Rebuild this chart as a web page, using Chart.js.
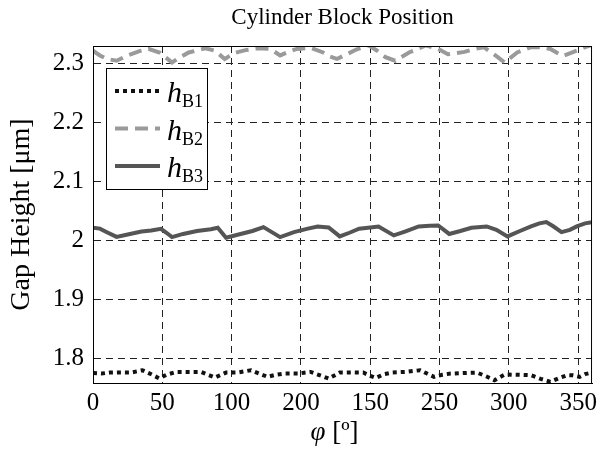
<!DOCTYPE html>
<html>
<head>
<meta charset="utf-8">
<script src="https://cdn.jsdelivr.net/npm/chart.js@4"></script>
<style>
  html, body { margin: 0; padding: 0; background: #fff; }
  #c { display: block; }
</style>
</head>
<body>
<canvas id="c" width="602" height="450"></canvas>
<script>
const phiB1 = [0, 6, 12, 20, 28, 35.6, 41, 47.7, 53, 60, 70, 78, 84, 88, 96, 105, 114, 120, 126, 132, 138, 148, 157, 165, 170, 178, 187, 195, 200, 204, 210, 216, 226, 236, 241, 246, 252, 258, 268, 277, 284, 289.6, 297, 306, 316, 323, 330, 336, 342, 346, 351, 355, 360];
const hB1 = [1.775, 1.774, 1.7757, 1.776, 1.776, 1.7797, 1.774, 1.766, 1.772, 1.7768, 1.7765, 1.7768, 1.771, 1.7672, 1.7757, 1.776, 1.7797, 1.774, 1.7684, 1.772, 1.774, 1.774, 1.7768, 1.770, 1.7655, 1.7757, 1.776, 1.7757, 1.770, 1.7667, 1.773, 1.7757, 1.777, 1.7797, 1.774, 1.7684, 1.772, 1.774, 1.775, 1.7757, 1.769, 1.7627, 1.7723, 1.772, 1.7712, 1.765, 1.760, 1.766, 1.7712, 1.771, 1.7684, 1.773, 1.7757];

const phiB2 = [0, 5, 10, 17, 26, 33, 40, 48, 57, 63, 69, 81, 88, 95, 102, 110, 119, 128, 135, 141, 147, 157, 166, 171, 176, 183, 190, 199, 205, 211, 218, 228, 235, 240, 249, 256, 262, 268, 275, 282, 292, 297, 306, 316, 323, 330, 335, 339, 349, 355, 360];
const hB2 = [2.322, 2.314, 2.308, 2.305, 2.315, 2.321, 2.325, 2.319, 2.302, 2.311, 2.319, 2.326, 2.322, 2.308, 2.318, 2.323, 2.326, 2.325, 2.314, 2.320, 2.325, 2.327, 2.319, 2.312, 2.308, 2.316, 2.324, 2.331, 2.322, 2.311, 2.305, 2.319, 2.326, 2.331, 2.325, 2.316, 2.318, 2.320, 2.325, 2.328, 2.311, 2.302, 2.319, 2.328, 2.328, 2.325, 2.318, 2.313, 2.322, 2.328, 2.332];

const phiB3 = [0, 5, 10, 17, 25, 35, 42, 49, 53, 57, 65, 75, 85, 90, 96, 105, 115, 123, 135, 145, 155, 162, 170, 178, 185, 192, 200, 206, 217, 225, 235, 243, 249, 257, 265, 273, 284, 291, 299, 308, 316, 322, 327, 332, 338, 344, 349, 355, 360];
const hB3 = [2.0215, 2.020, 2.014, 2.006, 2.010, 2.015, 2.017, 2.0198, 2.013, 2.0056, 2.011, 2.016, 2.019, 2.0215, 2.0045, 2.010, 2.016, 2.0226, 2.0056, 2.014, 2.020, 2.0237, 2.022, 2.0068, 2.013, 2.0198, 2.022, 2.0237, 2.0085, 2.015, 2.0237, 2.025, 2.0254, 2.011, 2.016, 2.0215, 2.0237, 2.018, 2.0068, 2.016, 2.0237, 2.029, 2.0311, 2.024, 2.0141, 2.018, 2.0237, 2.029, 2.0311];

const seriesNames = ['B1', 'B2', 'B3'];
const xTickValues = [0, 50, 100, 150, 200, 250, 300, 350];
const xTickLabels = ['0', '50', '100', '200', '150', '250', '300', '350'];
const yTickValues = [1.8, 1.9, 2.0, 2.1, 2.2, 2.3];
const yTickLabels = ['1.8', '1.9', '2', '2.1', '2.2', '2.3'];

const SERIF = "'Liberation Serif', 'Times New Roman', serif";

function pts(xs, ys) {
    return xs.map((x, i) => ({ x, y: ys[i] }));
}

// frame, title, x title and the legend with subscripts
const extras = {
    id: 'extras',
    afterDraw(chart) {
        const { ctx, chartArea: a } = chart;
        ctx.save();
        ctx.strokeStyle = '#000';
        ctx.lineWidth = 1;
        ctx.strokeRect(a.left + 0.5, a.top + 0.5, a.right - a.left - 1, a.bottom - a.top);

        ctx.fillStyle = '#000';
        ctx.textAlign = 'center';
        ctx.textBaseline = 'middle';
        ctx.font = '23px ' + SERIF;
        ctx.fillText('Cylinder Block Position', (a.left + a.right) / 2, 18);

        // x title: italic phi + [º]
        ctx.textBaseline = 'alphabetic';
        ctx.textAlign = 'left';
        const f1 = 'italic 27px ' + SERIF, f2 = '27px ' + SERIF;
        ctx.font = f1; const w1 = ctx.measureText('φ').width;
        ctx.font = f2; const w2 = ctx.measureText(' [º]').width;
        let x0 = (a.left + a.right) / 2 - 8 - (w1 + w2) / 2;
        const by = 440;
        ctx.font = f1; ctx.fillText('φ', x0, by);
        ctx.font = f2; ctx.fillText(' [º]', x0 + w1, by);

        // legend
        const lx = a.left + 13, ly = a.top + 22, lw = 101, lh = 121;
        ctx.fillStyle = '#fff';
        ctx.fillRect(lx, ly, lw, lh);
        ctx.strokeStyle = '#000';
        ctx.lineWidth = 1;
        ctx.strokeRect(lx + 0.5, ly + 0.5, lw, lh);
        chart.data.datasets.forEach((ds, i) => {
            const y = ly + 23 + i * 37.5;
            ctx.strokeStyle = ds.borderColor;
            ctx.lineWidth = ds.borderWidth;
            ctx.setLineDash(ds.borderDash || []);
            ctx.beginPath();
            ctx.moveTo(lx + 9, y);
            ctx.lineTo(lx + 54, y);
            ctx.stroke();
            ctx.setLineDash([]);
            ctx.fillStyle = '#000';
            ctx.font = 'italic 30px ' + SERIF;
            ctx.fillText('h', lx + 61, y + 11);
            const hw = ctx.measureText('h').width;
            ctx.font = '18px ' + SERIF;
            ctx.fillText(seriesNames[i], lx + 61 + hw, y + 16);
        });
        ctx.restore();
    }
};

new Chart(document.getElementById('c'), {
    type: 'line',
    data: {
        datasets: [
            { label: 'hB1', data: pts(phiB1, hB1), borderColor: '#111', borderWidth: 4, borderDash: [4, 4] },
            { label: 'hB2', data: pts(phiB2, hB2), borderColor: '#9a9a9a', borderWidth: 4, borderDash: [13, 7] },
            { label: 'hB3', data: pts(phiB3, hB3), borderColor: '#555', borderWidth: 4 }
        ]
    },
    options: {
        responsive: false,
        animation: false,
        layout: { padding: { top: 46, right: 3, left: 0, bottom: 0 } },
        datasets: { line: { pointRadius: 0, tension: 0, clip: 0, fill: false } },
        plugins: { legend: { display: false }, title: { display: false }, tooltip: { enabled: false } },
        scales: {
            x: {
                type: 'linear', min: 0, max: 360,
                afterBuildTicks: s => { s.ticks = xTickValues.map(v => ({ value: v })); },
                afterFit: s => { s.height = 67; },
                ticks: {
                    color: '#000', padding: 5, maxRotation: 0,
                    font: { family: SERIF, size: 25 },
                    callback: (v) => xTickLabels[xTickValues.indexOf(v)]
                },
                grid: { color: '#222', lineWidth: 1, drawTicks: false },
                border: { color: '#000', dash: [7, 5] }
            },
            y: {
                type: 'linear', min: 1.758, max: 2.33,
                afterBuildTicks: s => { s.ticks = yTickValues.map(v => ({ value: v })); },
                afterFit: s => { s.width = 93; },
                ticks: {
                    color: '#000', padding: 9,
                    font: { family: SERIF, size: 25 },
                    callback: (v) => yTickLabels[yTickValues.indexOf(v)]
                },
                grid: { color: '#222', lineWidth: 1, drawTicks: false },
                border: { color: '#000', dash: [7, 5] },
                title: {
                    display: true, text: 'Gap Height [μm]', color: '#000',
                    font: { family: SERIF, size: 28 }, padding: { top: 5 }
                }
            }
        }
    },
    plugins: [extras]
});
</script>
</body>
</html>
